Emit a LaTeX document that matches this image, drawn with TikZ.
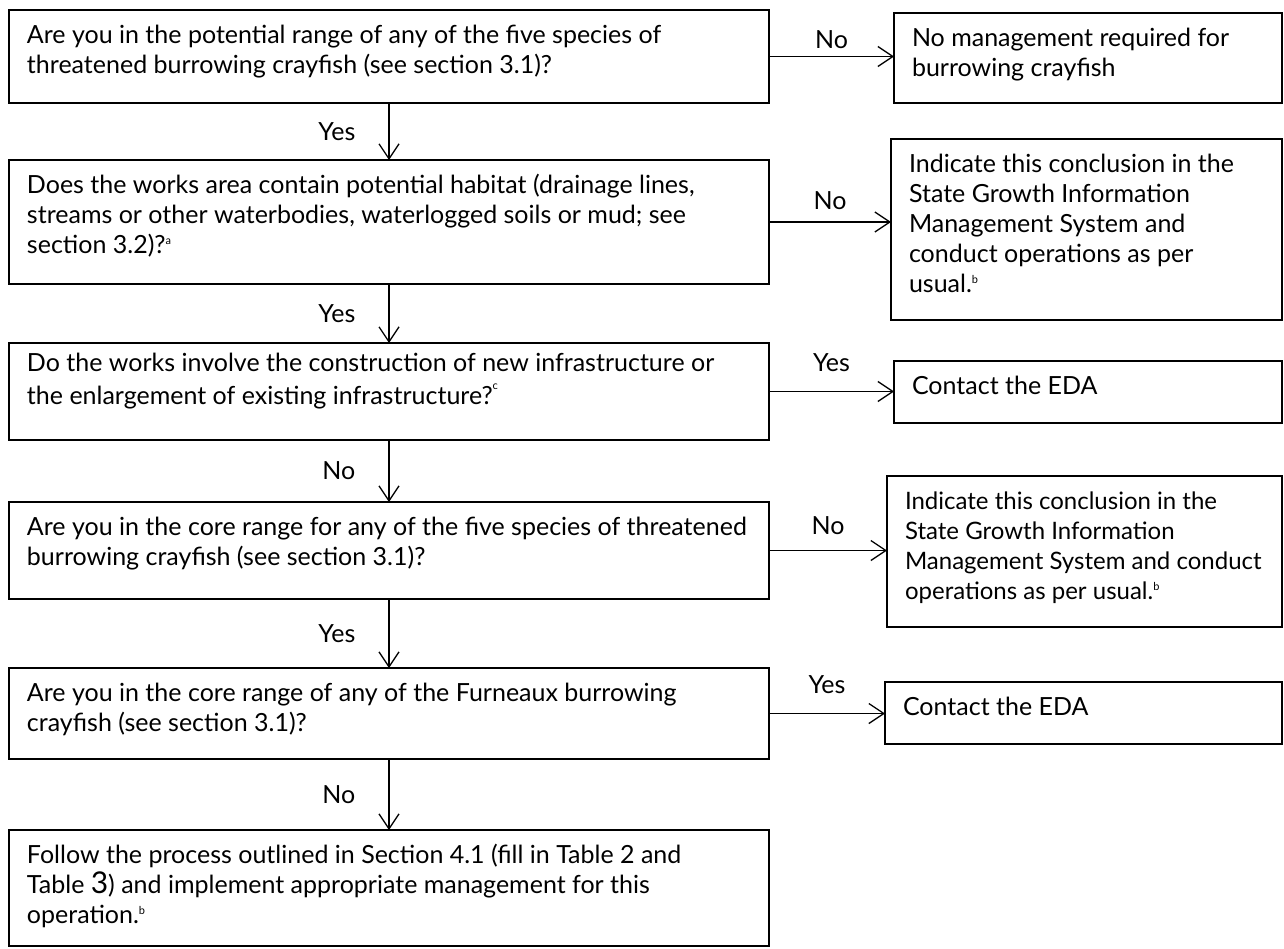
\documentclass[tikz,border=0pt]{standalone}
\usepackage{fontspec}
\setmainfont{Lato}
\usepackage{tikz}
\usetikzlibrary{positioning, arrows.meta, calc}

% box text: [first baseline]{box width}{box height}{text}
\newcommand{\boxtext}[4][33]{%
    \parbox[c][#3pt][t]{#2pt}{\raggedright\leftskip=18pt\rule{0pt}{#1pt}#4}}
% small raised note letter
\newcommand{\fnote}[2][9]{\raisebox{#1pt}{\fontsize{11}{11}\selectfont #2}}

\begin{document}
\begin{tikzpicture}[x=1pt, y=-1pt,
    flowbox/.style={draw, line width=1.8pt, anchor=north west, inner sep=0pt, outer sep=0pt},
    arr/.style={line width=1.3pt, -{Straight Barb[length=15pt, width=20pt, line width=1.3pt]}},
    lbl/.style={inner sep=0pt},
    font=\fontsize{25}{30}\selectfont]

    \useasboundingbox (0,0) rectangle (1284,948);

    % questions
    \node[flowbox] (q1) at (9,10) {\boxtext{760}{93}{Are you in the potential range of any of the five species of\\
        threatened burrowing crayfish (see section 3.1)?}};
    \node[flowbox] (q2) at (9,160) {\boxtext{760}{124}{Does the works area contain potential habitat (drainage lines,\\
        streams or other waterbodies, waterlogged soils or mud; see\\
        section 3.2)?\fnote{a}}};
    \node[flowbox] (q3) at (9,343) {\boxtext[28]{760}{97}{\baselineskip=33pt Do the works involve the construction of new infrastructure or\\
        the enlargement of existing infrastructure?\fnote[15]{c}}};
    \node[flowbox] (q4) at (9,502) {\boxtext{760}{97}{Are you in the core range for any of the five species of threatened\\
        burrowing crayfish (see section 3.1)?}};
    \node[flowbox] (q5) at (9,668) {\boxtext{760}{91}{Are you in the core range of any of the Furneaux burrowing\\
        crayfish (see section 3.1)?}};
    \node[flowbox] (q6) at (9,830) {\boxtext{760}{116}{Follow the process outlined in Section 4.1 (fill in Table 2 and\\
        Table {\fontsize{30}{30}\selectfont 3}) and implement appropriate management for this\\
        operation.\fnote{b}}};

    % outcomes
    \node[flowbox] (r1) at (894,13) {\boxtext{388}{90}{No management required for\\ burrowing crayfish}};
    \node[flowbox] (r2) at (891,139) {\boxtext{391}{181}{Indicate this conclusion in the\\
        State Growth Information\\ Management System and\\ conduct operations as per\\ usual.\fnote{b}}};
    \node[flowbox] (r3) at (894,361) {\boxtext{388}{62}{Contact the EDA}};
    \node[flowbox] (r4) at (887,476) {\boxtext{395}{151}{\fontsize{24}{30}\selectfont Indicate this conclusion in the\\
        State Growth Information\\ Management System and conduct\\ operations as per usual.\fnote{b}}};
    \node[flowbox] (r5) at (885,682) {\boxtext{397}{62}{Contact the EDA}};

    % down the left column
    \foreach \a/\b/\t in {q1/q2/Yes, q2/q3/Yes, q3/q4/No, q4/q5/Yes, q5/q6/No}
    {
        \draw[arr] (\a.south) -- (\b.north) node[lbl, midway, left=33pt] {\t};
    }

    % across to the outcomes
    \foreach \a/\b/\t/\d in {q1/r1/No/7, q2/r2/No/12, q3/r3/Yes/19, q4/r4/No/15, q5/r5/Yes/19}
    {
        \draw[arr] (\a.east) -- (\a.east -| \b.west) node[lbl, midway, above=\d pt] {\t};
    }
\end{tikzpicture}
\end{document}
